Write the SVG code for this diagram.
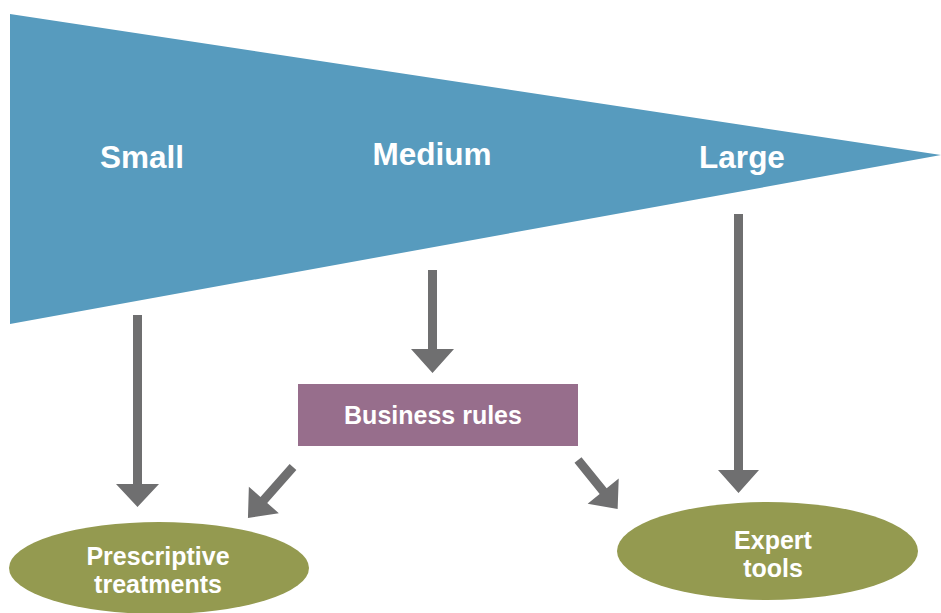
<svg xmlns="http://www.w3.org/2000/svg" width="941" height="613" viewBox="0 0 941 613">
<style>
text{font-family:"Liberation Sans",Arial,sans-serif;font-weight:bold;fill:#fff;text-anchor:middle}
.big{font-size:31.5px}
.mid{font-size:25px}
.arr{fill:#6f6f70}
.ell{fill:#949a50}
</style>
<rect width="941" height="613" fill="#fff"/>
<g id="funnel">
<polygon points="10,14 941,155 10,324" fill="#579bbe"/>
<text class="big" x="142" y="168">Small</text>
<text class="big" x="432" y="165">Medium</text>
<text class="big" x="742" y="168">Large</text>
</g>
<g id="connectors">
<polygon class="arr" points="133,315 142,315 142,484 159,484 137.5,507 116,484 133,484"/>
<polygon class="arr" points="428,270 437,270 437,349 454,349 432.5,373 411,349 428,349"/>
<polygon class="arr" points="734,214 743,214 743,470 759,470 738.5,493 718,470 734,470"/>
<g transform="translate(293,467) rotate(41.5)">
<polygon class="arr" points="-4.5,0 4.5,0 4.5,44 20,44 0,68 -20,44 -4.5,44"/>
</g>
<g transform="translate(578,460) rotate(-39)">
<polygon class="arr" points="-4.5,0 4.5,0 4.5,40 20,40 0,63 -20,40 -4.5,40"/>
</g>
</g>
<g id="business-rules">
<rect x="298" y="384" width="280" height="62" fill="#976e8c"/>
<text class="mid" x="433" y="424">Business rules</text>
</g>
<g id="prescriptive">
<ellipse class="ell" cx="159" cy="568" rx="150" ry="46"/>
<text class="mid" x="158" y="565">Prescriptive</text>
<text class="mid" x="158" y="593">treatments</text>
</g>
<g id="expert">
<ellipse class="ell" cx="767.5" cy="551" rx="150.5" ry="49"/>
<text class="mid" x="773" y="549">Expert</text>
<text class="mid" x="773" y="577">tools</text>
</g>
</svg>
